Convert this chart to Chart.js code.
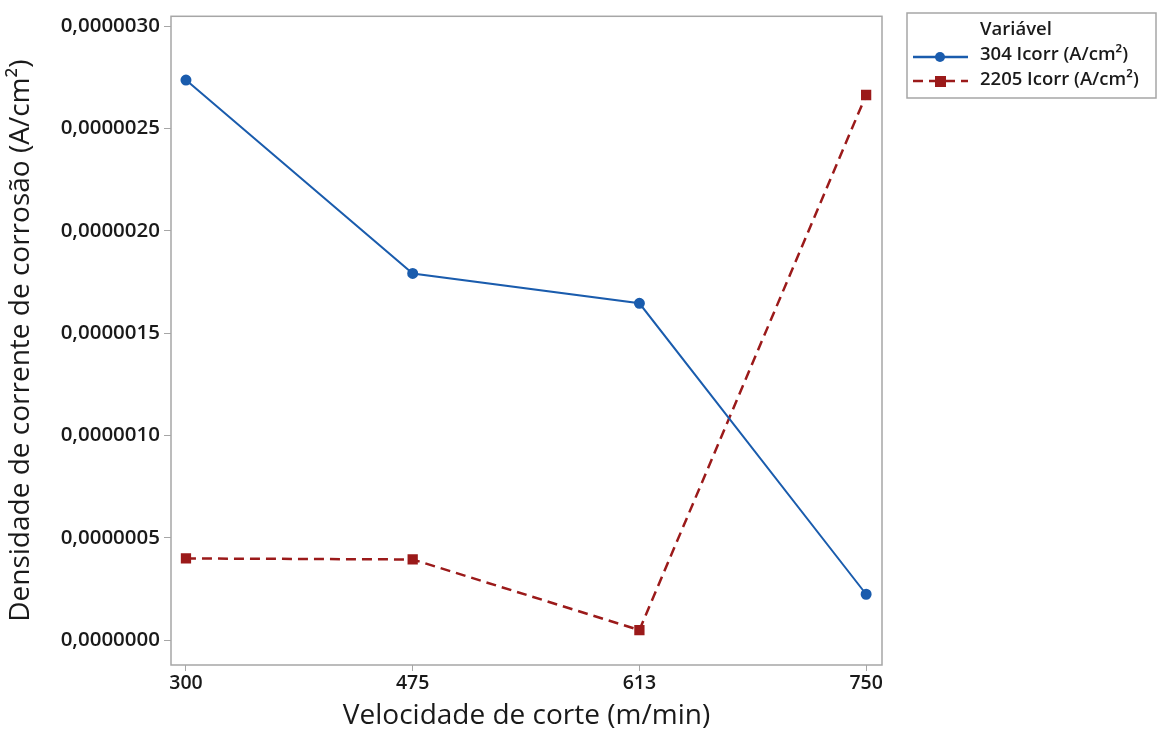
<!DOCTYPE html>
<html>
<head>
<meta charset="utf-8">
<script src="https://cdn.jsdelivr.net/npm/chart.js@4.4.0/dist/chart.umd.min.js"></script>
<style>
  html, body { margin: 0; padding: 0; background: #fff; }
  #wrap { width: 1157px; height: 733px; }
</style>
</head>
<body>
<div id="wrap"><canvas id="chart"></canvas></div>
<script>
const categories = ['300', '475', '613', '750'];
const icorr304 = [0.000002737, 0.000001792, 0.000001646, 0.000000224];
const icorr2205 = [0.000000399, 0.000000394, 0.000000049, 0.000002664];
const yTicks = [0, 0.0000005, 0.000001, 0.0000015, 0.000002, 0.0000025, 0.000003];
const yTickLabels = ['0,0000000', '0,0000005', '0,0000010', '0,0000015', '0,0000020', '0,0000025', '0,0000030'];
const seriesNames = ['304 Icorr (A/cm²)', '2205 Icorr (A/cm²)'];

const blue = '#1a5cad';
const red = '#9b1a1a';
const fontFam = '"Open Sans", "Noto Sans", sans-serif';

const toPoints = (vals) => vals.map((v, i) => ({ x: i, y: v }));

// frame round the plot area
const frame = {
    id: 'frame',
    beforeDatasetsDraw(chart) {
        const { ctx, chartArea: a } = chart;
        ctx.save();
        ctx.strokeStyle = '#a6a6a6';
        ctx.lineWidth = 1.5;
        ctx.strokeRect(a.left, a.top, a.right - a.left, a.bottom - a.top);
        ctx.restore();
    }
};

// legend box, drawn by hand to match the original
const legendBox = {
    id: 'legendBox',
    afterDraw(chart) {
        const ctx = chart.ctx;
        const x = 907, y = 13, w = 249, h = 85;
        ctx.save();
        ctx.strokeStyle = '#a6a6a6';
        ctx.lineWidth = 1.5;
        ctx.strokeRect(x, y, w, h);
        ctx.fillStyle = '#1a1a1a';
        ctx.textBaseline = 'middle';
        ctx.font = '600 18.5px ' + fontFam;
        ctx.fillText('Variável', 980, 30);
        ctx.fillText(seriesNames[0], 980, 55);
        ctx.fillText(seriesNames[1], 980, 80);
        // 304 sample
        ctx.strokeStyle = blue;
        ctx.lineWidth = 2.5;
        ctx.beginPath();
        ctx.moveTo(913, 57);
        ctx.lineTo(968, 57);
        ctx.stroke();
        ctx.fillStyle = blue;
        ctx.beginPath();
        ctx.arc(940, 57, 5, 0, Math.PI * 2);
        ctx.fill();
        // 2205 sample
        ctx.strokeStyle = red;
        ctx.setLineDash([10, 6]);
        ctx.beginPath();
        ctx.moveTo(913, 81);
        ctx.lineTo(968, 81);
        ctx.stroke();
        ctx.setLineDash([]);
        ctx.fillStyle = red;
        ctx.fillRect(935, 76, 11, 11);
        ctx.restore();
    }
};

new Chart(document.getElementById('chart'), {
    type: 'line',
    data: {
        datasets: [{
            label: seriesNames[0],
            data: toPoints(icorr304),
            borderColor: blue,
            backgroundColor: blue,
            borderWidth: 2,
            pointStyle: 'circle',
            pointRadius: 4.5,
            pointHoverRadius: 4.5,
            tension: 0
        }, {
            label: seriesNames[1],
            data: toPoints(icorr2205),
            borderColor: red,
            backgroundColor: red,
            borderWidth: 2.5,
            borderDash: [10, 6],
            pointStyle: 'rect',
            pointRadius: 5.5,
            pointHoverRadius: 5.5,
            tension: 0
        }]
    },
    options: {
        responsive: true,
        maintainAspectRatio: false,
        animation: false,
        events: [],
        layout: { padding: { top: 13, right: 275, left: 0, bottom: 0 } },
        plugins: {
            legend: { display: false },
            tooltip: { enabled: false }
        },
        scales: {
            x: {
                type: 'linear',
                min: -0.066,
                max: 3.07,
                afterBuildTicks: (scale) => {
                    scale.ticks = categories.map((c, i) => ({ value: i }));
                },
                afterFit: (scale) => { scale.height = 68; },
                ticks: {
                    callback: (v) => categories[v],
                    color: '#1a1a1a',
                    font: { family: fontFam, size: 19.5, weight: '600' },
                    padding: 1,
                    maxRotation: 0
                },
                grid: { drawOnChartArea: false, drawTicks: true, tickLength: 6, color: '#a6a6a6' },
                border: { display: false },
                title: {
                    display: true,
                    text: 'Velocidade de corte (m/min)',
                    color: '#1a1a1a',
                    font: { family: fontFam, size: 28, weight: '500' },
                    padding: { top: 0, bottom: 0 }
                }
            },
            y: {
                min: -0.0000001218,
                max: 0.0000030487,
                afterBuildTicks: (scale) => {
                    scale.ticks = yTicks.map((v) => ({ value: v }));
                },
                afterFit: (scale) => { scale.width = 171; },
                ticks: {
                    callback: (v) => yTickLabels[yTicks.indexOf(v)],
                    color: '#1a1a1a',
                    font: { family: fontFam, size: 20.5, weight: '600' },
                    padding: 4
                },
                grid: { drawOnChartArea: false, drawTicks: true, tickLength: 7, color: '#a6a6a6' },
                border: { display: false },
                title: {
                    display: true,
                    text: 'Densidade de corrente de corrosão (A/cm²)',
                    color: '#1a1a1a',
                    font: { family: fontFam, size: 28, weight: '500' },
                    padding: { top: 4, bottom: 0 }
                }
            }
        }
    },
    plugins: [frame, legendBox]
});
</script>
</body>
</html>
